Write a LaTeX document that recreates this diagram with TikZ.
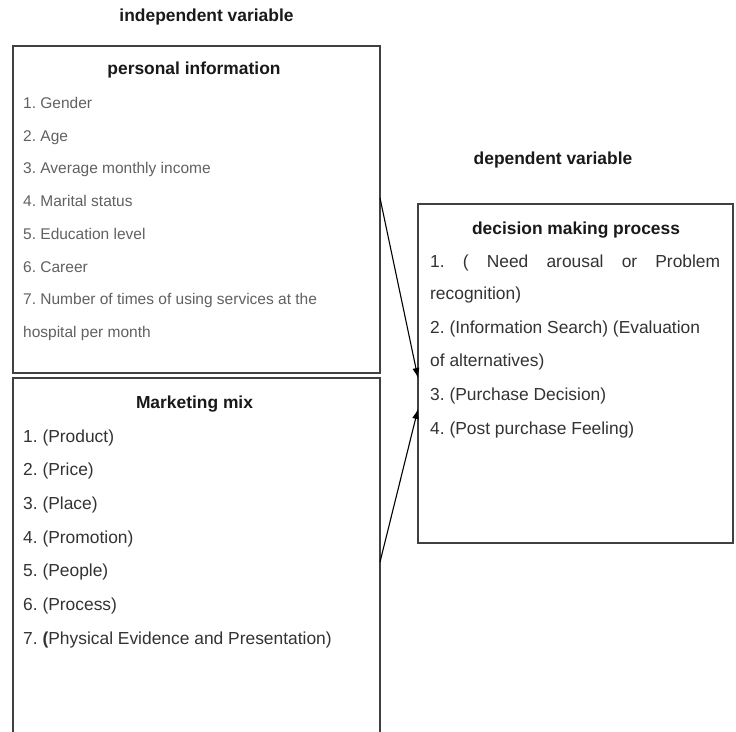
\documentclass[tikz,border=0pt]{standalone}
\usepackage{fontspec}
\setmainfont{Liberation Sans}
\usetikzlibrary{arrows.meta,calc}
\frenchspacing
\begin{document}
\begin{tikzpicture}[x=1pt,y=-1pt,
  box/.style={draw=black!75, line width=1.1pt, inner sep=0pt, outer sep=0pt, anchor=north west},
  ttl/.style={font=\bfseries\fontsize{17.4}{20}\selectfont, text=black!90, inner sep=0pt, anchor=base},
  itemA/.style={font=\fontsize{15.5}{18}\selectfont, text=black!62, inner sep=0pt, anchor=base west},
  itemB/.style={font=\fontsize{17.4}{20}\selectfont, text=black!80, inner sep=0pt, anchor=base west},
  link/.style={draw=black, line width=1.1pt, -{Latex[length=10pt,width=7pt]}}]
\useasboundingbox (0,0) rectangle (736,731);
\fill[white] (0,0) rectangle (736,731);
% boxes
\node[box, minimum width=367pt, minimum height=327pt] (b1) at (13,46) {};
\node[box, minimum width=367pt, minimum height=372pt] (b2) at (13,378) {};
\node[box, minimum width=315pt, minimum height=339pt] (b3) at (418,204) {};
% headings
\node[ttl] (t0) at (206.5,21) {independent variable};
\node[ttl] (t1) at (194,74) {personal information};
\node[ttl] (t2) at (194.5,408) {Marketing mix};
\node[ttl] (t3) at (553,164) {dependent variable};
\node[ttl] (t4) at (576,234) {decision making process};
% personal information items
\foreach \t [count=\i from 0] in {1. Gender, 2. Age, 3. Average monthly income, 4. Marital status, 5. Education level, 6. Career, 7. Number of times of using services at the, hospital per month}
  \node[itemA] (pa\i) at (23,108.5+32.7*\i) {\t};
% marketing mix items
\foreach \t [count=\i from 0] in {1. (Product), 2. (Price), 3. (Place), 4. (Promotion), 5. (People), 6. (Process), {7. \textbf{(}Physical Evidence and Presentation)}}
  \node[itemB] (mm\i) at (23,442+33.7*\i) {\t};
% decision making items
\node[itemB] (d1) at (430,267) {\makebox[290pt][s]{1. ( Need arousal or Problem}};
\node[itemB] (d2) at (430,299.5) {recognition)};
\node[itemB] (d3) at (430,333) {2. (Information Search) (Evaluation};
\node[itemB] (d4) at (430,366.5) {of alternatives)};
\node[itemB] (d5) at (430,400) {3. (Purchase Decision)};
\node[itemB] (d6) at (430,434) {4. (Post purchase Feeling)};
% connectors
\coordinate (s1) at ($(b1.north east)+(0,152)$);
\coordinate (e1) at ($(b3.north west)+(0,174)$);
\coordinate (s2) at ($(b2.north east)+(0,184)$);
\coordinate (e2) at ($(b3.north west)+(0,205)$);
\draw[link] (s1) -- (e1);
\draw[link] (s2) -- (e2);
\end{tikzpicture}
\end{document}
